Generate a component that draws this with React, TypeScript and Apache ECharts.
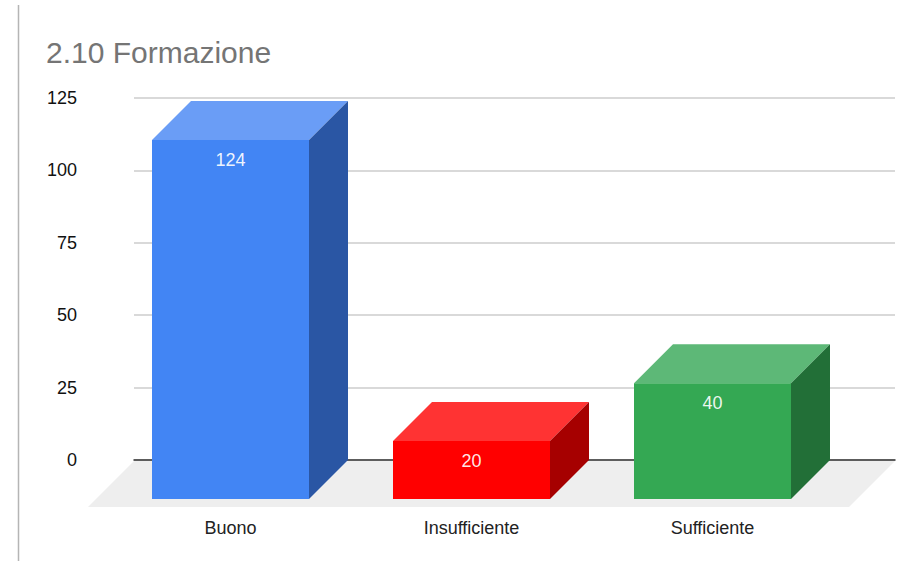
import React, { useEffect, useRef } from "react";
import * as echarts from "echarts";

const titleText = "2.10 Formazione";
const categories = ["Buono", "Insufficiente", "Sufficiente"];
const values = [124, 20, 40];
const yTicks = { min: 0, max: 125, interval: 25 };
const frontColors = ["#4285f4", "#ff0000", "#34a853"];
const topColors = ["#6a9df6", "#ff3333", "#5db877"];
const sideColors = ["#2a56a4", "#a60000", "#226f37"];

const DEPTH = 39;
const BAR_RATIO = 157 / 241;

function renderBar(params: any, api: any) {
  const i = params.dataIndex;
  const cat = api.value(0);
  const val = api.value(1);
  const top = api.coord([cat, val]);
  const base = api.coord([cat, 0]);
  const w = api.size([1, 0])[0] * BAR_RATIO;
  const l = top[0] - w / 2;
  const r = top[0] + w / 2;
  return {
    type: "group",
    children: [
      {
        type: "polygon",
        shape: { points: [[l, top[1]], [r, top[1]], [r + DEPTH, top[1] - DEPTH], [l + DEPTH, top[1] - DEPTH]] },
        style: { fill: topColors[i] },
      },
      {
        type: "polygon",
        shape: { points: [[r, top[1]], [r + DEPTH, top[1] - DEPTH], [r + DEPTH, base[1] - DEPTH], [r, base[1]]] },
        style: { fill: sideColors[i] },
      },
      {
        type: "rect",
        shape: { x: l, y: top[1], width: w, height: base[1] - top[1] },
        style: { fill: frontColors[i] },
      },
      {
        type: "text",
        style: {
          x: top[0],
          y: top[1] + 20,
          text: String(val),
          fill: "#ffffff",
          font: '18px "Liberation Sans"',
          textAlign: "center",
          textVerticalAlign: "middle",
          opacity: 0.92,
        },
      },
    ],
  };
}

export default function App() {
  const ref = useRef<HTMLDivElement>(null);
  useEffect(() => {
    const chart = echarts.init(ref.current!, undefined, { renderer: "svg" });
    chart.setOption({
      animation: false,
      backgroundColor: "#ffffff",
      title: {
        text: titleText,
        left: 41,
        top: 32,
        textStyle: { color: "#757575", fontFamily: "Liberation Sans", fontSize: 30, fontWeight: "normal" },
      },
      grid: [
        { left: 134, top: 98, width: 761, height: 362 },
        { left: 110, top: 137, width: 723, height: 362 },
      ],
      xAxis: [
        {
          gridIndex: 0,
          type: "category",
          data: categories,
          axisLine: { show: true, onZero: true, lineStyle: { color: "#333333", width: 1.5 } },
          axisTick: { show: false },
          axisLabel: { show: false },
          splitLine: { show: false },
        },
        {
          gridIndex: 1,
          type: "category",
          data: categories,
          axisLine: { show: false },
          axisTick: { show: false },
          axisLabel: { color: "#222222", fontFamily: "Liberation Sans", fontSize: 18, margin: 20 },
          splitLine: { show: false },
        },
      ],
      yAxis: [
        {
          gridIndex: 0,
          type: "value",
          ...yTicks,
          axisLine: { show: false },
          axisTick: { show: false },
          axisLabel: { color: "#111111", fontFamily: "Liberation Sans", fontSize: 18, margin: 57 },
          splitLine: { show: true, lineStyle: { color: "#cccccc", width: 1.5 } },
        },
        {
          gridIndex: 1,
          type: "value",
          ...yTicks,
          show: false,
          splitLine: { show: false },
        },
      ],
      graphic: [
        {
          type: "line",
          z: -1,
          shape: { x1: 18.5, y1: 5, x2: 18.5, y2: 561 },
          style: { stroke: "#b5b5b5", lineWidth: 1.5 },
        },
        {
          type: "polygon",
          z: -1,
          shape: { points: [[134, 461], [895, 461], [849, 507], [88, 507]] },
          style: { fill: "#eeeeee" },
        },
      ],
      series: [
        {
          type: "custom",
          xAxisIndex: 1,
          yAxisIndex: 1,
          clip: false,
          renderItem: renderBar,
          encode: { x: 0, y: 1 },
          data: categories.map((c, i) => [i, values[i]]),
        },
      ],
    });
    return () => chart.dispose();
  }, []);
  return <div ref={ref} style={{ position: "fixed", left: 0, top: 0, width: 920, height: 561 }} />;
}
